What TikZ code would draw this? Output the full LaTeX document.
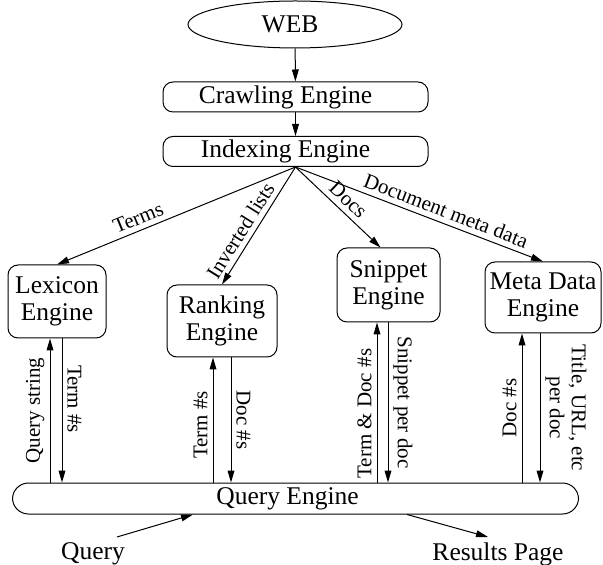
\documentclass[tikz,border=0pt]{standalone}
\usepackage{fontspec}
\setmainfont{Liberation Serif}
\usetikzlibrary{shapes.geometric,arrows.meta}
\newcommand{\boxfont}{\fontsize{12.75}{13.5}\selectfont}
\newcommand{\tagfont}{\fontsize{10.5}{11}\selectfont}
\newcommand{\nudge}[1]{\hphantom{\hskip #1}}
\tikzstyle{source}=[ellipse,draw,line width=0.5pt,minimum width=107pt,minimum height=23.5pt,inner sep=0pt,font=\boxfont]
\tikzstyle{engine}=[rectangle,draw,rounded corners=5pt,line width=0.5pt,minimum height=15pt,inner sep=0pt,align=center,font=\boxfont]
\tikzstyle{flow}=[draw,line width=0.5pt,-{Triangle[length=6pt,width=3.4pt]}]
\tikzstyle{tag}=[font=\tagfont,inner sep=2.5pt,align=center]
\tikzstyle{caption}=[font=\boxfont,inner sep=0pt]

\begin{document}
\begin{tikzpicture}[x=0.5pt,y=-0.5pt]
        \useasboundingbox (0,0) rectangle (603,565);
        \node[source] (web) at (295,24.5) {WEB\nudge{5pt}};
        \node[engine,minimum width=132.5pt] (crawl) at (295.5,97) {Crawling Engine\nudge{10pt}};
        \node[engine,minimum width=132.5pt] (index) at (295.5,151.5) {Indexing Engine\nudge{10pt}};
        \node[engine,minimum width=49pt,minimum height=36.5pt] (lexicon) at (57,301.5) {Lexicon\\Engine};
        \node[engine,minimum width=55pt,minimum height=36pt] (ranking) at (222,321) {Ranking\\Engine};
        \node[engine,minimum width=51.5pt,minimum height=37pt] (snippet) at (388.5,285) {Snippet\\Engine};
        \node[engine,minimum width=58pt,minimum height=35.5pt] (meta) at (543,297.5) {Meta Data\\Engine};
        \node[engine,minimum width=283pt,minimum height=15.5pt,rounded corners=8pt] (qengine) at (295.5,498.5) {Query Engine\nudge{8pt}};
        \node[caption] (query) at (93,554) {Query};
        \node[caption] (results) at (498,554) {Results Page};
        \coordinate (qin) at (117,537);
        \coordinate (rout) at (488,537);

        % crawl and index
        \path[flow] (web) -- (crawl);
        \path[flow] (crawl) -- (index);

        % index feeds the engines
        \path[flow] (index.south) -- node[tag,sloped,above,pos=0.64] {Terms} (lexicon.north);
        \path[flow] (index.south) -- node[tag,sloped,above,pos=0.6] {Inverted lists} (ranking.north);
        \path[flow] (index.south) -- node[tag,sloped,above,pos=0.52] {Docs} ([xshift=-4pt]snippet.north);
        \path[flow] (index.south) -- node[tag,sloped,above,pos=0.59] {Document meta data} (meta.north);

        % query engine talks to the engines
        \path[flow] (50,0 |- qengine.north) -- node[tag,rotate=90,above] {Query string} (50,0 |- lexicon.south);
        \path[flow] (62,0 |- lexicon.south) -- node[tag,rotate=-90,above,pos=0.42] {Term \#s} (62,0 |- qengine.north);
        \path[flow] (213,0 |- qengine.north) -- node[tag,rotate=90,above,pos=0.46] {Term \#s} (213,0 |- ranking.south);
        \path[flow] (231,0 |- ranking.south) -- node[tag,rotate=-90,above] {Doc \#s} (231,0 |- qengine.north);
        \path[flow] (377,0 |- qengine.north) -- node[tag,rotate=90,above,pos=0.43] {Term \& Doc \#s} (377,0 |- snippet.south);
        \path[flow] (388,0 |- snippet.south) -- node[tag,rotate=-90,above] {Snippet per doc} (388,0 |- qengine.north);
        \path[flow] (522,0 |- qengine.north) -- node[tag,rotate=90,above] {Doc \#s} (522,0 |- meta.south);
        \path[flow] (540,0 |- meta.south) -- node[tag,rotate=-90,above] {Title, URL, etc\\per doc} (540,0 |- qengine.north);

        % in and out
        \path[flow] (qin) -- (193,0 |- qengine.south);
        \path[flow] (407,0 |- qengine.south) -- (rout);
    \end{tikzpicture}
\end{document}
